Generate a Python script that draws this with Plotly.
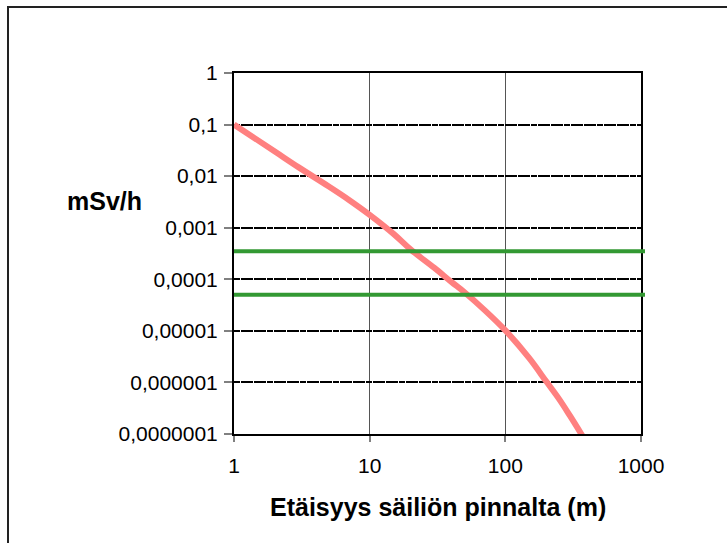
import plotly.graph_objects as go

# Data
distance_m = [1, 2, 3, 5, 7, 10, 15, 20, 30, 40, 50, 70, 100, 150, 200, 250, 300, 400]
dose_rate = [0.1, 0.030, 0.0148, 0.0063, 0.0035, 0.00178, 7.6e-4, 3.8e-4, 1.66e-4,
             8.9e-5, 5.6e-5, 2.55e-5, 1.02e-5, 2.95e-6, 1.05e-6, 4.7e-7, 2.24e-7, 6.6e-8]
limit_levels = [3.5e-4, 5.0e-5]

y_tickvals = [1, 0.1, 0.01, 0.001, 0.0001, 0.00001, 0.000001, 0.0000001]
y_ticktext = ["1", "0,1", "0,01", "0,001", "0,0001", "0,00001", "0,000001", "0,0000001"]
x_tickvals = [1, 10, 100, 1000]
x_ticktext = ["1", "10", "100", "1000"]

x_title = "Etäisyys säiliön pinnalta (m)"
y_title = "mSv/h"

W, H = 727, 543
L, R, T, B = 234, 641, 72.5, 434
pw, ph = R - L, B - T

def px(x):
    return (x - L) / pw

def py(y):
    return (B - y) / ph

fig = go.Figure()
fig.add_trace(go.Scatter(
    x=distance_m, y=dose_rate, mode="lines",
    line=dict(color="#FF8080", width=6, shape="spline", smoothing=1.0),
    showlegend=False, hoverinfo="skip",
))

shapes = []
for lv in limit_levels:
    shapes.append(dict(type="line", xref="paper", yref="y",
                       x0=0, x1=px(645), y0=lv, y1=lv,
                       line=dict(color="#339933", width=4), layer="above"))
# outer frame
shapes.append(dict(type="rect", xref="paper", yref="paper",
                   x0=px(8), x1=px(740), y0=py(560), y1=py(6.5),
                   line=dict(color="#222222", width=2), layer="below"))

font_family = "Liberation Sans, Arial, sans-serif"

fig.update_layout(
    width=W, height=H,
    margin=dict(l=L, r=W - R, t=T, b=H - B),
    paper_bgcolor="white", plot_bgcolor="white",
    font=dict(family=font_family, color="black", size=21),
    shapes=shapes,
    annotations=[
        dict(text="<b>%s</b>" % x_title, xref="paper", yref="paper",
             x=0.5, y=py(507), xanchor="center", yanchor="middle",
             showarrow=False, font=dict(size=25, family=font_family)),
        dict(text="<b>%s</b>" % y_title, xref="paper", yref="paper",
             x=px(104), y=py(201), xanchor="center", yanchor="middle",
             showarrow=False, font=dict(size=25, family=font_family)),
    ],
    xaxis=dict(
        type="log", range=[0, 3],
        tickvals=x_tickvals, ticktext=x_ticktext,
        showgrid=True, gridcolor="#555555", gridwidth=1,
        showline=True, linecolor="black", linewidth=2, mirror=True,
        ticks="outside", ticklen=6, tickwidth=1.5, tickcolor="#808080",
        tickfont=dict(size=21), ticklabelstandoff=6, zeroline=False,
    ),
    yaxis=dict(
        type="log", range=[-7, 0],
        tickvals=y_tickvals, ticktext=y_ticktext,
        showgrid=True, gridcolor="black", gridwidth=2, griddash="6px,0.6px",
        showline=True, linecolor="black", linewidth=2, mirror=True,
        ticks="outside", ticklen=8, tickwidth=1.5, tickcolor="#808080",
        tickfont=dict(size=21), ticklabelstandoff=2, zeroline=False,
    ),
)

fig.write_html("out.html")
